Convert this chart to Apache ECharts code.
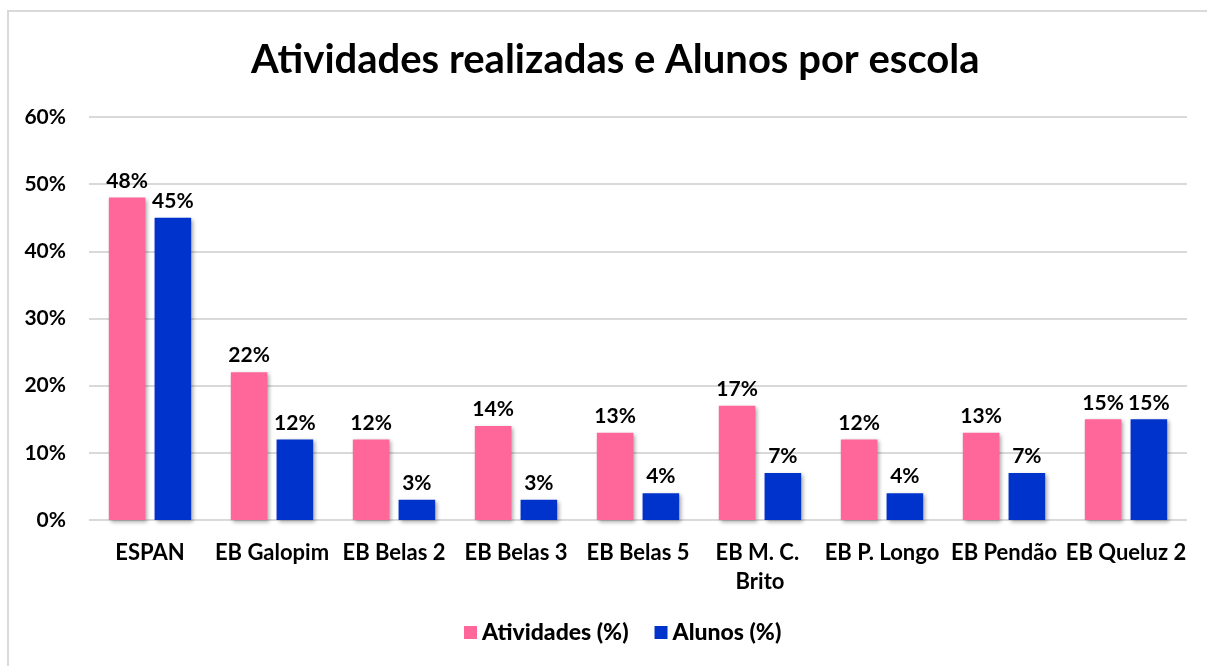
<!DOCTYPE html>
<html>
<head>
<meta charset="utf-8">
<script src="https://cdn.jsdelivr.net/npm/echarts@6/dist/echarts.min.js"></script>
<style>
  html, body { margin: 0; padding: 0; background: #fff; overflow: hidden; }
  #frame {
    position: absolute; left: 7px; top: 10px; width: 1230px; height: 700px;
    border: 2px solid #d9d9d9; box-sizing: border-box;
  }
  #chart { position: absolute; left: 0; top: 0; width: 1207px; height: 666px; }
</style>
</head>
<body>
<div id="frame"></div>
<div id="chart"></div>
<script>
// escolas e percentagens
var escolas = ["ESPAN", "EB Galopim", "EB Belas 2", "EB Belas 3", "EB Belas 5", "EB M. C. Brito", "EB P. Longo", "EB Pendão", "EB Queluz 2"];
var atividades = [48, 22, 12, 14, 13, 17, 12, 13, 15];
var alunos = [45, 12, 3, 3, 4, 7, 4, 7, 15];
var legendas = ["Atividades (%)", "Alunos (%)"];

var fonte = "Lato";
var chart = echarts.init(document.getElementById("chart"));

var sombra = {
  shadowColor: "rgba(0,0,0,0.35)",
  shadowBlur: 4,
  shadowOffsetX: 2,
  shadowOffsetY: 2
};

var rotulo = {
  show: true,
  position: "top",
  distance: 6,
  formatter: "{c}%",
  fontFamily: fonte,
  fontWeight: "bold",
  fontSize: 21,
  color: "#000"
};

var option = {
  backgroundColor: "transparent",
  textStyle: { fontFamily: fonte, fontWeight: "bold", color: "#000" },
  title: {
    text: "Atividades realizadas e Alunos por escola",
    left: 246,
    top: 35,
    textStyle: { fontFamily: fonte, fontWeight: "bold", fontSize: 40, color: "#000" }
  },
  legend: {
    bottom: 17,
    left: 459,
    icon: "rect",
    itemWidth: 13,
    itemHeight: 13,
    itemGap: 26,
    textStyle: { fontFamily: fonte, fontWeight: 900, fontSize: 23, color: "#000" },
    data: legendas
  },
  grid: { left: 89, right: 20, top: 117, bottom: 146, containLabel: false },
  xAxis: {
    type: "category",
    data: escolas,
    axisLine: { show: false },
    axisTick: { show: false },
    axisLabel: {
      interval: 0,
      margin: 18,
      width: 127,
      overflow: "break",
      lineHeight: 29,
      fontFamily: fonte,
      fontWeight: "bold",
      fontSize: 22,
      color: "#000"
    }
  },
  yAxis: {
    type: "value",
    min: 0,
    max: 60,
    interval: 10,
    axisLine: { show: false },
    axisTick: { show: false },
    splitLine: { lineStyle: { color: "#d9d9d9", width: 2 } },
    axisLabel: {
      formatter: "{value}%",
      margin: 23,
      fontFamily: fonte,
      fontWeight: "bold",
      fontSize: 21,
      color: "#000"
    }
  },
  series: [
    {
      name: legendas[0],
      type: "bar",
      data: atividades,
      barWidth: "30%",
      barGap: "25%",
      itemStyle: Object.assign({ color: "#FF6699" }, sombra),
      label: rotulo
    },
    {
      name: legendas[1],
      type: "bar",
      data: alunos,
      barWidth: "30%",
      itemStyle: Object.assign({ color: "#0033CC" }, sombra),
      label: rotulo
    }
  ]
};

chart.setOption(option);
</script>
</body>
</html>
